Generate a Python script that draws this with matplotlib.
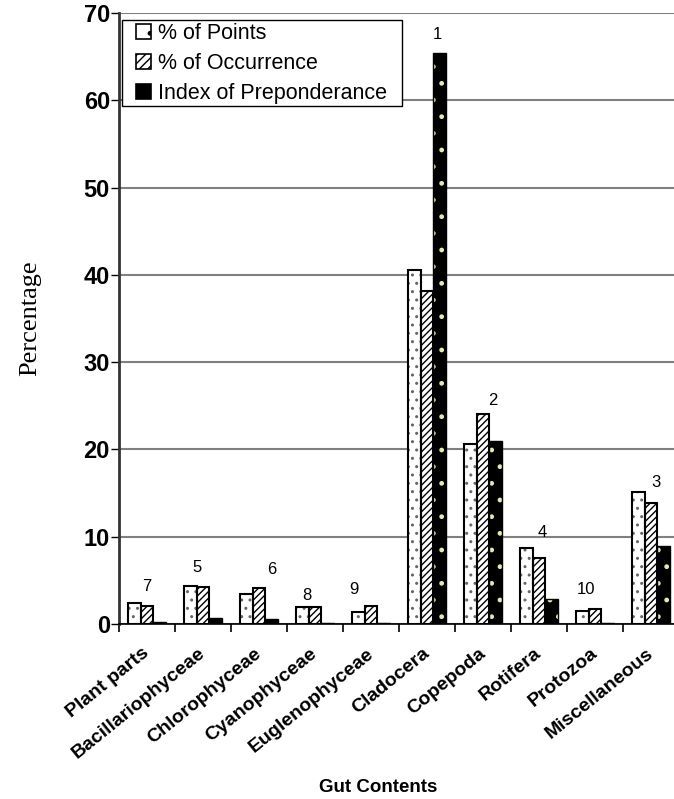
import matplotlib
matplotlib.use("Agg")
import matplotlib.pyplot as plt
import matplotlib.patches as mpatches
from matplotlib.transforms import ScaledTranslation
import numpy as np

categories = ["Plant parts", "Bacillariophyceae", "Chlorophyceae", "Cyanophyceae",
              "Euglenophyceae", "Cladocera", "Copepoda", "Rotifera", "Protozoa",
              "Miscellaneous"]
pct_points = [2.4, 4.3, 3.4, 1.95, 1.4, 40.5, 20.6, 8.7, 1.5, 15.1]
pct_occurrence = [2.1, 4.2, 4.15, 1.95, 2.05, 38.1, 24.1, 7.6, 1.75, 13.9]
index_prep = [0.25, 0.7, 0.55, 0.12, 0.08, 65.4, 21.0, 2.85, 0.1, 8.9]
ranks = ["7", "5", "6", "8", "9", "1", "2", "4", "10", "3"]
series_names = ["% of Points", "% of Occurrence", "Index of Preponderance"]
yticks = [0, 10, 20, 30, 40, 50, 60, 70]

# label placement (style only)
rank_dx = [0.0, -0.1, 0.22, -0.15, -0.3, 0.18, 0.18, 0.05, -0.16, 0.09]
rank_dy = [1.0, 1.3, 1.2, 0.5, 1.1, 1.3, 0.7, 0.9, 1.3, 0.3]

plt.rcParams['font.family'] = ['Liberation Sans', 'DejaVu Sans']
plt.rcParams['hatch.linewidth'] = 1.0

W, H = 674, 799
fig = plt.figure(figsize=(W / 100, H / 100), dpi=100)
ax = fig.add_axes([119 / W, 1 - 624 / H, 560 / W, 611 / H])

x = np.arange(len(categories))
bw = 0.227

# % of Points: white with dots
ax.bar(x - bw, pct_points, bw, facecolor='white', edgecolor='#666666',
       hatch='..', linewidth=0, zorder=3)
ax.bar(x - bw, pct_points, bw, facecolor='none', edgecolor='black', linewidth=1.5, zorder=4)
# % of Occurrence: diagonal hatch
ax.bar(x, pct_occurrence, bw, facecolor='white', edgecolor='black',
       hatch='/////', linewidth=1.5, zorder=3)
# Index of Preponderance: black with light dots
ax.bar(x + bw, index_prep, bw, facecolor='black', edgecolor='#e8e8b0',
       hatch='.', linewidth=0, zorder=3)
ax.bar(x + bw, index_prep, bw, facecolor='none', edgecolor='black', linewidth=1.0, zorder=4)

group_max = np.maximum(np.maximum(pct_points, pct_occurrence), index_prep)
for i, r in enumerate(ranks):
    ax.text(x[i] + rank_dx[i], group_max[i] + rank_dy[i], r, ha='center', va='bottom',
            fontsize=12, zorder=5)

ax.set_xlim(-0.5, len(categories) - 0.5)
ax.set_ylim(0, 70)
ax.set_yticks(yticks)
ax.set_yticklabels([str(t) for t in yticks], fontsize=17, fontweight='bold')
ax.yaxis.grid(True, color='#808080', linewidth=1.5, zorder=0)
ax.set_axisbelow(True)

ax.set_xticks(x)
ax.set_xticklabels(categories, rotation=39, ha='right', rotation_mode='anchor',
                   fontsize=14, fontweight='bold')
ax.tick_params(axis='x', which='major', length=0, pad=15)
shift = ScaledTranslation(-5 / 100, 0, fig.dpi_scale_trans)
for lab in ax.get_xticklabels():
    lab.set_transform(lab.get_transform() + shift)
ax.set_xticks(np.arange(-0.5, len(categories), 1.0), minor=True)
ax.tick_params(axis='x', which='minor', length=6, width=1.2, direction='out')
ax.tick_params(axis='y', length=6, width=1.0, direction='out', pad=0.5)

for s in ['top', 'right']:
    ax.spines[s].set_visible(False)
ax.spines['left'].set_linewidth(2.0)
ax.spines['left'].set_color('#333333')
ax.spines['bottom'].set_linewidth(1.2)

fig.text(30 / W, 1 - 318 / H, "Percentage", rotation=90, ha='center', va='center',
         fontsize=19, family=['Liberation Serif', 'DejaVu Serif'])
fig.text(378 / W, 1 - 788 / H, "Gut Contents", ha='center', va='center',
         fontsize=13.5, fontweight='bold')

# legend frame box
frame = mpatches.Rectangle((122 / W, 1 - 106 / H), 280 / W, 86 / H,
                           transform=fig.transFigure, facecolor='white',
                           edgecolor='black', linewidth=1.0, zorder=5)
fig.add_artist(frame)

h1 = mpatches.Patch(facecolor='white', edgecolor='black', hatch='.', linewidth=1.2)
h2 = mpatches.Patch(facecolor='white', edgecolor='black', hatch='////', linewidth=1.2)
h3 = mpatches.Patch(facecolor='black', edgecolor='black', linewidth=1.2)
leg = fig.legend([h1, h2, h3], series_names, loc='upper left',
                 bbox_to_anchor=(136 / W, 1 - 23 / H), bbox_transform=fig.transFigure,
                 fontsize=15.5, frameon=False,
                 handlelength=0.7, handleheight=0.7, handletextpad=0.3,
                 borderpad=0, labelspacing=0.42, borderaxespad=0)
leg.set_zorder(6)

fig.savefig("out.png", dpi=100)
